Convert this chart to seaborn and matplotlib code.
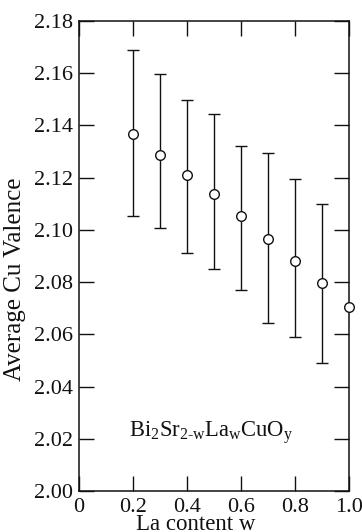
import matplotlib
matplotlib.use("Agg")
import matplotlib.pyplot as plt
import seaborn as sns
import pandas as pd

# La content and measured average Cu valence with error bounds
la_content = [0.2, 0.3, 0.4, 0.5, 0.6, 0.7, 0.8, 0.9, 1.0]
valence = [2.1367, 2.1287, 2.1210, 2.1137, 2.1053, 2.0965, 2.0880, 2.0797, 2.0705]
err_upper = [2.1689, 2.1597, 2.1496, 2.1444, 2.1320, 2.1294, 2.1195, 2.1099, None]
err_lower = [2.1053, 2.1007, 2.0910, 2.0850, 2.0770, 2.0643, 2.0590, 2.0490, None]

x_ticks = [0, 0.2, 0.4, 0.6, 0.8, 1.0]
x_tick_labels = ["0", "0.2", "0.4", "0.6", "0.8", "1.0"]
y_ticks = [2.00, 2.02, 2.04, 2.06, 2.08, 2.10, 2.12, 2.14, 2.16, 2.18]
y_tick_labels = ["2.00", "2.02", "2.04", "2.06", "2.08", "2.10", "2.12", "2.14", "2.16", "2.18"]

df = pd.DataFrame({"w": la_content, "v": valence, "hi": err_upper, "lo": err_lower})

sns.set_style("ticks")
plt.rcParams["font.family"] = ["Liberation Serif", "DejaVu Serif"]
plt.rcParams["mathtext.fontset"] = "custom"
plt.rcParams["mathtext.rm"] = "Liberation Serif"
plt.rcParams["mathtext.it"] = "Liberation Serif"

fig = plt.figure(figsize=(3.62, 5.32), dpi=100)
ax = fig.add_axes([0.218, 0.077, 0.746, 0.8835])

ink = "#111111"

# error bars
eb = df.dropna()
ax.errorbar(eb["w"], eb["v"],
            yerr=[eb["v"] - eb["lo"], eb["hi"] - eb["v"]],
            fmt="none", ecolor=ink, elinewidth=1.0, capsize=4.2, capthick=1.0, zorder=2)

# data points as open circles
sns.scatterplot(data=df, x="w", y="v", ax=ax, marker="o", s=48,
                facecolor="white", edgecolor=ink, linewidth=1.0, zorder=3,
                clip_on=False, legend=False)

ax.set_xlim(0, 1.0)
ax.set_ylim(2.00, 2.18)
ax.set_xticks(x_ticks)
ax.set_xticklabels(x_tick_labels)
ax.set_yticks(y_ticks)
ax.set_yticklabels(y_tick_labels)

ax.tick_params(direction="in", length=11, width=1.0, color=ink,
               labelsize=16, labelcolor=ink, top=True, right=True, pad=2)
ax.tick_params(axis="x", pad=5)
ax.tick_params(axis="y", pad=4)
for s in ax.spines.values():
    s.set_linewidth(1.1)
    s.set_color(ink)

ax.set_xlabel("La content w", fontsize=16.5, color=ink)
ax.xaxis.set_label_coords(0.433, -0.049)
ax.set_ylabel("Average Cu Valence", fontsize=18, color=ink)
ax.yaxis.set_label_coords(-0.195, 0.451)

ax.text(0.49, 2.0222, r"Bi$_2$Sr$_{2\text{-}w}$La$_w$CuO$_y$",
        fontsize=16.3, color=ink, ha="center", va="center")

fig.savefig("out.png", dpi=100)
